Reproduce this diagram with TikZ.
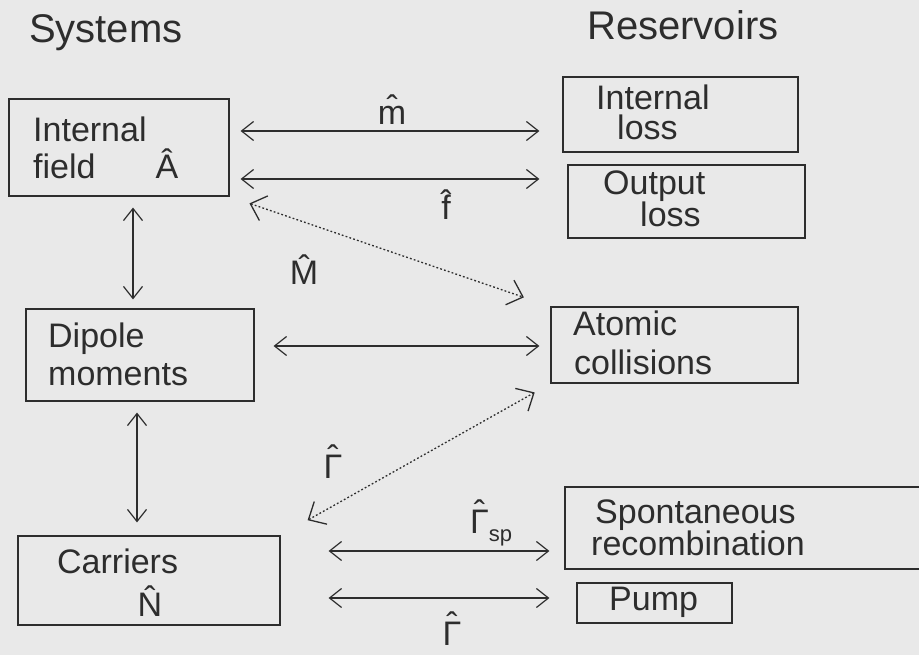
\documentclass[tikz,border=0pt]{standalone}
\usepackage{fontspec}
\setmainfont{Liberation Sans}
\usetikzlibrary{arrows.meta}
\definecolor{bg}{RGB}{233,233,233}
\definecolor{ink}{RGB}{45,45,45}
\newcommand{\capHat}[1]{\ooalign{#1\cr\hidewidth\raisebox{0.24em}{ˆ}\hidewidth\cr}}
\begin{document}
\begin{tikzpicture}[x=1pt,y=-1pt,
  box/.style={draw=ink,line width=1.2pt,inner sep=0pt,rectangle},
  txt/.style={font=\fontsize{34}{40}\selectfont,text=ink,inner sep=0pt,anchor=base west},
  head/.style={font=\fontsize{40}{46}\selectfont,text=ink,inner sep=0pt,anchor=base west},
  sym/.style={font=\fontsize{34}{40}\selectfont,text=ink,inner sep=0pt,anchor=base},
  arr/.style={draw=ink,line width=1.2pt,{Straight Barb[length=12pt,width=19pt]}-{Straight Barb[length=12pt,width=19pt]}},
  dotarr/.style={draw=ink,line width=1.3pt,dash pattern=on 1.8pt off 2.2pt,{Straight Barb[length=14pt,width=26pt]}-{Straight Barb[length=14pt,width=26pt]}}]
\fill[bg] (0,0) rectangle (919,655);
\useasboundingbox (0,0) rectangle (919,655);
% boxes
\node[box,minimum width=220pt,minimum height=97pt] (IF) at (119,147.5) {};
\node[box,minimum width=228pt,minimum height=92pt] (DM) at (140,355) {};
\node[box,minimum width=262pt,minimum height=89pt] (CA) at (149,580.5) {};
\node[box,minimum width=235pt,minimum height=75pt] (IL) at (680.5,114.5) {};
\node[box,minimum width=237pt,minimum height=73pt] (OL) at (686.5,201.5) {};
\node[box,minimum width=247pt,minimum height=76pt] (AC) at (674.5,345) {};
\node[box,minimum width=360pt,minimum height=82pt] (SR) at (745,528) {};
\node[box,minimum width=155pt,minimum height=40pt] (PU) at (654.5,603) {};
% headings and texts
\node[head] (tSys) at (29,43) {Systems};
\node[head] (tRes) at (587,40) {Reservoirs};
\node[txt] (tIF1) at (33,142) {Internal};
\node[txt] (tIF2) at (33,179) {field};
\node[sym] (sA) at (167,179) {\^A};
\node[txt] (tDM1) at (48,347) {Dipole};
\node[txt] (tDM2) at (48,385) {moments};
\node[txt] (tCA1) at (57,573) {Carriers};
\node[sym] (sN) at (150,616) {\^N};
\node[txt] (tIL1) at (596,110) {Internal};
\node[txt] (tIL2) at (617,140) {loss};
\node[txt] (tOL1) at (603,195) {Output};
\node[txt] (tOL2) at (640,227) {loss};
\node[txt] (tAC1) at (573,335) {Atomic};
\node[txt] (tAC2) at (574,374) {collisions};
\node[txt] (tSR1) at (595,523) {Spontaneous};
\node[txt] (tSR2) at (591,555) {recombination};
\node[txt] (tPU) at (609,610) {Pump};
% operator labels
\node[sym] (sm) at (392,125) {\^m};
\node[sym] (sf) at (446,220) {\^f};
\node[sym] (sM) at (304,285) {\^M};
\node[sym] (sG1) at (333,478) {\capHat{Γ}};
\node[txt] (sG2) at (470,533) {\capHat{Γ}\raisebox{-8pt}{\fontsize{22}{24}\selectfont sp}};
\node[sym] (sG3) at (452,645) {\capHat{Γ}};
% connectors
\draw[arr,shorten <=11pt,shorten >=23pt] ([yshift=16.5pt]IF.east) -- ([yshift=16.5pt]IF.east -| IL.west);
\draw[arr,shorten <=11pt,shorten >=28pt] ([yshift=-31.5pt]IF.east) -- ([yshift=-31.5pt]IF.east -| OL.west);
\draw[arr,shorten <=11pt,shorten >=9pt] ([xshift=14pt]IF.south) -- ([xshift=14pt]IF.south |- DM.north);
\draw[arr,shorten <=19pt,shorten >=11pt] ([yshift=9pt]DM.east) -- ([yshift=9pt]DM.east -| AC.west);
\draw[arr,shorten <=11pt,shorten >=13pt] ([xshift=-3pt]DM.south) -- ([xshift=-3pt]DM.south |- CA.north);
\draw[arr,shorten <=48pt,shorten >=15pt] ([yshift=29.5pt]CA.east) -- ([yshift=29.5pt]CA.east -| SR.west);
\draw[arr,shorten <=48pt,shorten >=27pt] ([yshift=-17.5pt]CA.east) -- ([yshift=-17.5pt]CA.east -| PU.west);
\draw[dotarr,shorten <=21pt,shorten >=28pt] (IF.south east) -- (AC.north west);
\draw[dotarr,shorten <=31pt,shorten >=18pt] (CA.north east) -- (AC.south west);
\end{tikzpicture}
\end{document}
